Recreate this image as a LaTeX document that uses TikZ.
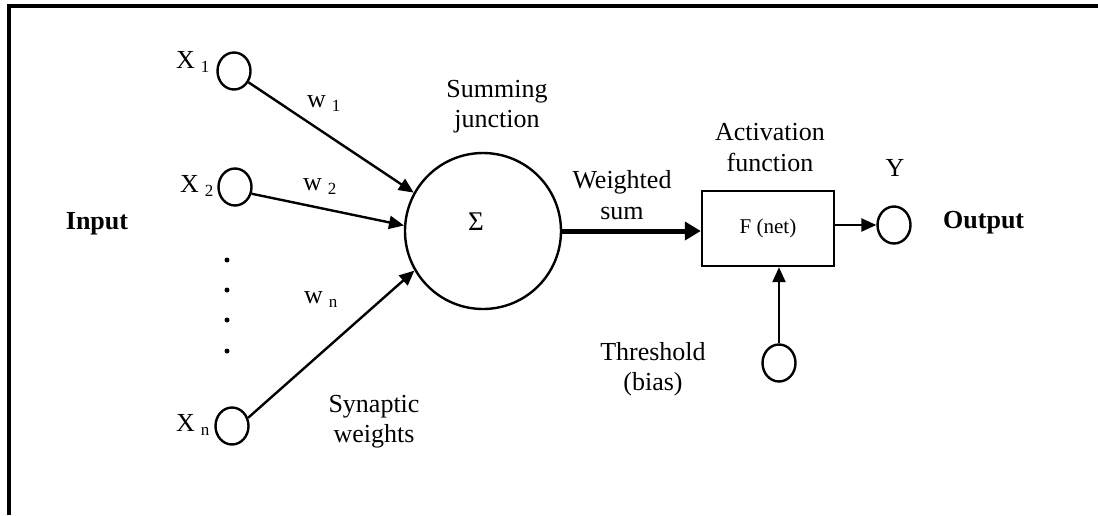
\documentclass[tikz,border=0pt]{standalone}
\usepackage{fontspec}
\setmainfont{Liberation Serif}
\usetikzlibrary{arrows.meta,shapes.geometric}

\newcommand\lowsub[1]{\hspace{6pt}\raisebox{-4pt}{\fontsize{17}{17}\selectfont #1}}

\begin{document}
\begin{tikzpicture}[x=1pt,y=-1pt,
  txt/.style={font=\fontsize{26}{30}\selectfont, inner sep=0pt, anchor=base},
  boldtxt/.style={txt, font=\fontsize{26}{30}\selectfont\bfseries},
  unit/.style={draw, ellipse, line width=2.4pt, inner sep=0pt,
               minimum width=33pt, minimum height=37pt},
  link/.style={line width=2.4pt, -{Triangle[length=15pt,width=13pt]}},
  heavy/.style={line width=5pt, -{Triangle[length=16pt,width=18pt]}},
  dotmark/.style={fill, circle, inner sep=0pt, minimum size=5pt}
]
\useasboundingbox (0,0) rectangle (1098,515);

% open frame: top edge and left edge
\draw[line width=4.5pt, line join=miter] (9,515) -- (9,6) -- (1098,6);

% input units
\node[unit] (x1) at (234,71) {};
\node[unit] (x2) at (235,187) {};
\node[unit] (xn) at (232,426) {};
\node[txt, anchor=base west] (lx1) at (176,68) {X\lowsub{1}};
\node[txt, anchor=base west] (lx2) at (180,192) {X\lowsub{2}};
\node[txt, anchor=base west] (lxn) at (176,431) {X\lowsub{n}};

% vertical ellipsis between x2 and xn
\node[dotmark] (d1) at (227,260) {};
\node[dotmark] (d2) at (227,290) {};
\node[dotmark] (d3) at (227,320) {};
\node[dotmark] (d4) at (227,351) {};

% summing junction
\node[draw, circle, line width=2.4pt, minimum size=156pt, inner sep=0pt] (sum) at (483,231) {};
\node[font=\fontsize{27}{27}\selectfont, inner sep=0pt] (sigma) at (476,222) {Σ};

% weighted connections
\draw[link] (x1.-38) -- (sum.151);
\draw[link] (x2.-22) -- (sum.176);
\draw[link] (xn.27) -- (sum.210);
\node[txt, anchor=base west] (w1) at (307,107) {w\lowsub{1}};
\node[txt, anchor=base west] (w2) at (303,190) {w\lowsub{2}};
\node[txt, anchor=base west] (wn) at (304,303) {w\lowsub{n}};

% activation block and output unit
\node[draw, line width=2.4pt, minimum width=132pt, minimum height=75pt, inner sep=0pt,
      font=\fontsize{21}{21}\selectfont] (act) at (768,228.5) {F (net)};
\node[unit] (y) at (894,225) {};
\node[unit] (bias) at (779,363) {};

\draw[heavy] (sum.east) -- (sum.east -| act.west);
\draw[link] (act.east |- y.west) -- (y.west);
\draw[link] (bias.north) -- (bias.north |- act.south);

% labels
\node[boldtxt] (in) at (97,229) {Input};
\node[boldtxt, anchor=base west] (out) at (943,228) {Output};
\node[txt] (ly) at (895,176) {Y};
\node[txt] (sj1) at (497,97) {Summing};
\node[txt] (sj2) at (497,127) {junction};
\node[txt] (ws1) at (622,188) {Weighted};
\node[txt] (ws2) at (622,219) {sum};
\node[txt] (af1) at (770,140) {Activation};
\node[txt] (af2) at (770,171) {function};
\node[txt] (th1) at (653,360) {Threshold};
\node[txt] (th2) at (653,390) {(bias)};
\node[txt] (sw1) at (374,412) {Synaptic};
\node[txt] (sw2) at (374,442) {weights};
\end{tikzpicture}
\end{document}
